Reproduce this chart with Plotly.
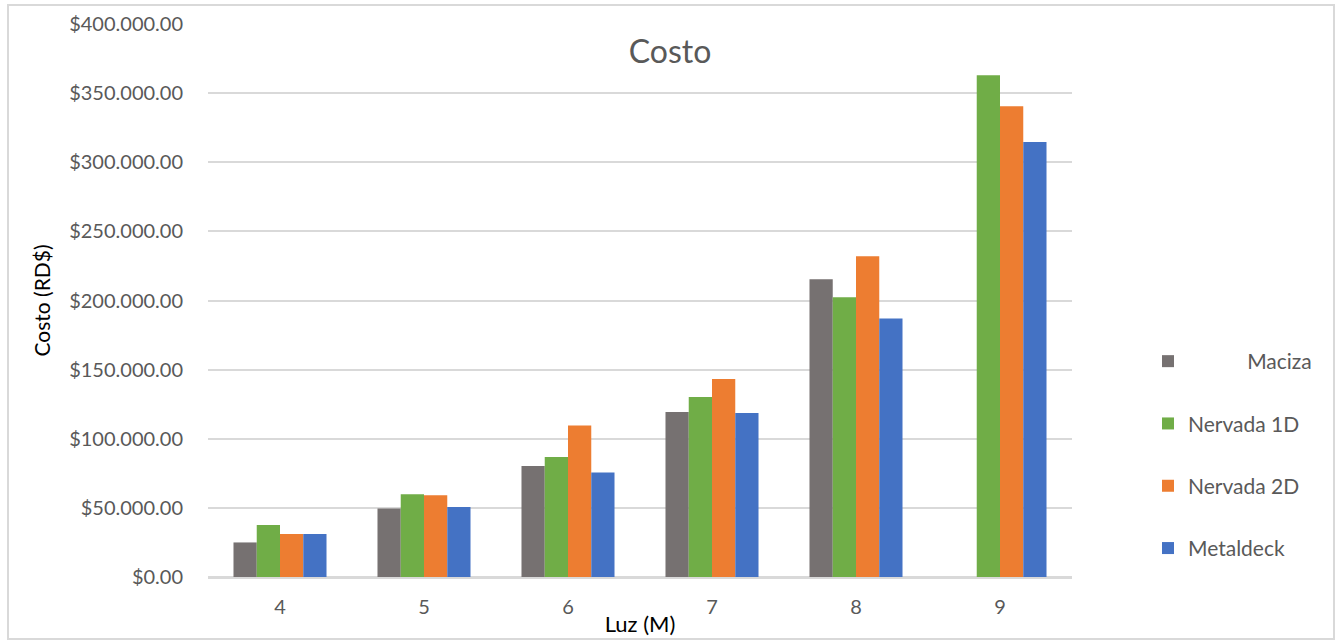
import plotly.graph_objects as go

# Span (m) of the slab and cost in RD$ per slab type
luz = ["4", "5", "6", "7", "8", "9"]
maciza = [25000, 49600, 80300, 119300, 215300, None]
nervada_1d = [37600, 59800, 86800, 130200, 202300, 362900]
nervada_2d = [31100, 59100, 109600, 143200, 232000, 340500]
metaldeck = [31100, 50600, 75500, 118600, 186900, 314600]

series_names = ["\u00a0" * 11 + "Maciza", "Nervada 1D", "Nervada 2D", "Metaldeck"]
series_values = [maciza, nervada_1d, nervada_2d, metaldeck]
series_colors = ["#767171", "#70AD47", "#ED7D31", "#4472C4"]

y_ticks = list(range(0, 400001, 50000))


def money(v):
    s = f"{v:,.2f}"
    return "$" + s.replace(",", ".")


FONT = "Lato, 'Open Sans', sans-serif"

fig = go.Figure()
for i, (name, vals, col) in enumerate(zip(series_names, series_values, series_colors)):
    fig.add_trace(go.Bar(
        x=luz, y=vals, name=name, marker_color=col,
        marker_line_width=0, legendgroup=f"g{i}",
    ))

fig.update_layout(
    width=1342, height=641,
    barmode="group", bargap=0.354, bargroupgap=0,
    plot_bgcolor="white", paper_bgcolor="white",
    margin=dict(l=208, r=270, t=24, b=64, autoexpand=False),
    font=dict(family=FONT, color="#595959"),
    title=dict(text="Costo", x=670 / 1342, xanchor="center",
               y=1 - 52 / 641, yanchor="middle",
               font=dict(size=32, color="#595959", family=FONT)),
    showlegend=True,
    legend=dict(x=1148 / 1342, xref="container", y=1 - 341 / 641, yref="container",
                xanchor="left", yanchor="top",
                font=dict(size=21, color="#595959", family=FONT),
                traceorder="grouped", tracegroupgap=32,
                itemwidth=30, bgcolor="rgba(0,0,0,0)"),
    xaxis=dict(
        automargin=False,
        showgrid=False, showline=True, linecolor="#d9d9d9", linewidth=2,
        ticks="", ticklabelstandoff=11, tickfont=dict(size=20, color="#595959"),
        title=dict(text="Luz (M)", font=dict(size=22, color="#000000"), standoff=0),
    ),
    yaxis=dict(
        automargin=False,
        range=[0, 400000], tickvals=y_ticks, ticktext=[money(v) for v in y_ticks],
        showgrid=True, gridcolor="#d9d9d9", gridwidth=2,
        zeroline=True, zerolinecolor="#d9d9d9", zerolinewidth=2,
        showline=False, ticks="", ticklabelstandoff=24,
        tickfont=dict(size=20, color="#595959"),
        title=dict(text="Costo (RD$)", font=dict(size=21, color="#000000"), standoff=12),
    ),
)

# Chart frame
fig.add_shape(type="rect", xref="paper", yref="paper",
              x0=(8 - 208) / 864, x1=(1334 - 208) / 864,
              y0=(577 - 639) / 553, y1=(577 - 5) / 553,
              line=dict(color="#d9d9d9", width=2), fillcolor="rgba(0,0,0,0)",
              layer="below")

fig.write_html("out.html")
